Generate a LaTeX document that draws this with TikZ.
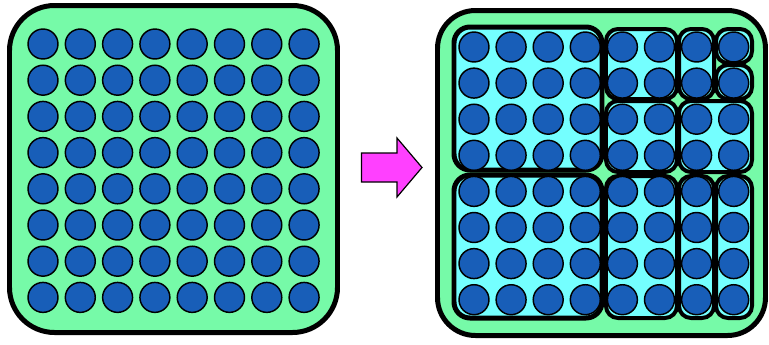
\documentclass[tikz,border=0pt]{standalone}
\usetikzlibrary{calc}
\definecolor{boxgreen}{RGB}{118,250,168}
\definecolor{dotblue}{RGB}{24,94,184}
\definecolor{cellcyan}{RGB}{116,255,255}
\definecolor{arrowpink}{RGB}{255,64,255}

\begin{document}
\begin{tikzpicture}[
    x=0.0264cm, y=-0.0264cm,
    outerbox/.style={draw=black, fill=boxgreen, line width=3.75pt, rounded corners=33.8pt},
    cellbox/.style={draw=black, fill=cellcyan, line width=3pt, rounded corners=9pt},
    bigcell/.style={cellbox, line width=3.75pt, rounded corners=12pt},
    dot/.style={circle, draw=black, fill=dotblue, line width=1.1pt,
                minimum size=22.5pt, inner sep=0pt},
    bigarrow/.style={draw=black, fill=arrowpink, line width=0.9pt, line join=miter}
]
\useasboundingbox (0,0) rectangle (769,344);

% left: one big block
\draw[outerbox] (9.5,5.5) rectangle (337.5,332.5);
\foreach \i in {0,...,7}
  \foreach \j in {0,...,7}
    \node[dot] (l-\i-\j) at ({43+37.3*\i},{44+36.2*\j}) {};

% arrow
\coordinate (arr) at (391.5,167.5);
\draw[bigarrow] ($(arr)+(-30,-14.5)$) -- ($(arr)+(5.5,-14.5)$) -- ($(arr)+(5.5,-29.5)$)
    -- ($(arr)+(30.5,0)$) -- ($(arr)+(5.5,29.5)$) -- ($(arr)+(5.5,14.5)$)
    -- ($(arr)+(-30,14.5)$) -- cycle;

% right: block split into cells
\draw[outerbox, rounded corners=28.5pt] (437.5,10.5) rectangle (765.5,335.5);
\draw[bigcell] (454,27) rectangle (602,170);
\draw[bigcell] (454,175) rectangle (602,318);
\foreach \xa/\ya/\xb/\yb in {606/29/677/99, 606/101/677/172, 679/101/752/172,
    679/29/714/99, 716/29/752/63, 716/65/752/99,
    606/176/677/318, 679/176/714/318, 716/176/752/318}
  \draw[cellbox] (\xa,\ya) rectangle (\xb,\yb);
\foreach \i in {0,...,7}
  \foreach \j in {0,...,7}
    \node[dot] (r-\i-\j) at ({474+37.1*\i},{47+36.1*\j}) {};

\end{tikzpicture}
\end{document}
